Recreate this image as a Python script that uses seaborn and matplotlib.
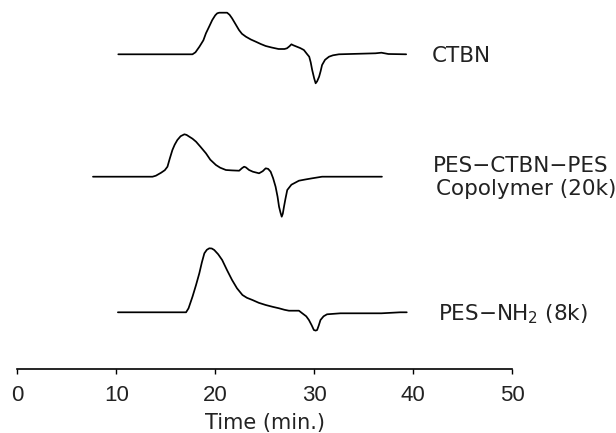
import numpy as np
import pandas as pd
import matplotlib
matplotlib.use("Agg")
import matplotlib.pyplot as plt
import seaborn as sns

# ---- data (signal heights in arbitrary units) ----
ctbn_t = [10.2, 17.7, 18.0, 18.4, 18.8, 19.06, 19.4, 19.7, 20.0, 20.2, 20.4, 21.2,
          21.45, 21.7, 22.0, 22.4, 22.7, 23.1, 23.6, 24.1, 24.6, 25.1, 25.7, 26.4,
          27.0, 27.25, 27.5, 27.7, 27.9, 28.25, 28.6, 28.96, 29.3, 29.5, 29.65,
          29.8, 30.0, 30.15, 30.3, 30.5, 30.65, 30.8, 31.1, 31.5, 31.9, 32.5,
          36.2, 36.8, 37.5, 39.3]
ctbn_h = [0, 0, 2, 7.6, 14, 21, 28, 34.3, 39, 41, 41.6, 41.6,
          39.5, 36, 31, 24.3, 20.5, 17.6, 14.8, 12.6, 10.3, 8.3, 6.8, 5.3,
          5.3, 6, 8, 10, 9, 7.6, 6.2, 4.3, 0, -2.4, -8,
          -15.7, -24, -29, -27, -22.4, -17, -10.7, -5.5, -2.4, -1, 0,
          1, 1.6, 0.3, 0]

copo_t = [7.64, 13.66, 14.0, 14.53, 14.9, 15.17, 15.4, 15.67, 15.9, 16.17,
          16.5, 16.88, 17.1, 17.38, 17.7, 18.06, 18.5, 19.06, 19.5, 20.07,
          20.5, 21.08, 21.7, 22.42, 22.7, 22.92, 23.1, 23.42, 23.8, 24.43,
          24.8, 25.1, 25.35, 25.6, 25.85, 26.1, 26.3, 26.45, 26.6, 26.72,
          26.83, 26.95, 27.1, 27.28, 27.7, 28.46, 29.1, 29.8, 30.8, 36.85]
copo_h = [0, 0, 1, 4, 6.5, 10, 18, 26.7, 32, 36.7,
          40.5, 42.4, 41.8, 40, 38, 35, 30, 23.4, 17, 11.7,
          9, 6.7, 6.3, 6, 8.5, 10, 9.3, 6.7, 5, 3.4,
          5.5, 8.4, 7.8, 5, -1.5, -10, -20, -30, -36, -40,
          -37, -30, -22, -13.3, -8, -4, -2.8, -1.6, 0, 0]

pes_t = [10.16, 17.05, 17.3, 17.7, 18.05, 18.39, 18.65, 18.9, 19.15, 19.4,
         19.65, 19.9, 20.3, 20.7, 21.2, 21.7, 22.2, 22.75, 23.2, 23.76,
         24.4, 25.1, 25.8, 26.45, 27.0, 27.45, 28.46, 28.8, 29.2, 29.47,
         29.75, 29.97, 30.15, 30.3, 30.47, 30.64, 30.95, 31.3, 32.66, 36.8,
         38.7, 39.36]
pes_h = [0, 0, 4, 15.6, 27, 39, 50, 59, 62.5, 64,
         63.8, 62.3, 58, 52.3, 42, 32.3, 24, 17.3, 14.5, 12.3,
         9.5, 7.3, 5.5, 4, 2.5, 1.6, 1.6, -1, -4, -7.7,
         -13, -17.7, -18.3, -17.7, -13, -7.7, -4, -2, -1, -1,
         0, 0]

series_names = ["CTBN", "PES\u2212CTBN\u2212PES Copolymer (20k)", "PES\u2212NH2 (8k)"]
x_ticks = [0, 10, 20, 30, 40, 50]
x_label = "Time (min.)"

# vertical stacking offsets (layout)
offsets = [314.7, 192.3, 56.7]

frames = []
for name, t, h, off in zip(series_names, [ctbn_t, copo_t, pes_t],
                           [ctbn_h, copo_h, pes_h], offsets):
    frames.append(pd.DataFrame({"series": name, "time": t,
                                "signal": np.array(h) + off}))
df = pd.concat(frames, ignore_index=True)

sns.set_style("white")
plt.rcParams["font.family"] = ["DejaVu Sans"]
plt.rcParams["mathtext.default"] = "regular"

W, H = 616, 433
fig = plt.figure(figsize=(W / 100, H / 100), dpi=100)
ax = fig.add_axes([17.4 / W, (H - 369) / H, (512 - 17.4) / W, 369 / H])

sns.lineplot(data=df, x="time", y="signal", hue="series",
             palette=["black"] * 3, estimator=None, sort=False,
             legend=False, linewidth=1.25, ax=ax)

ax.set_xlim(0, 50)
ax.set_ylim(0, 369)
ax.set_yticks([])
ax.set_ylabel("")
ax.set_xticks(x_ticks)
ax.set_xticklabels([str(v) for v in x_ticks], family="Liberation Sans",
                   fontsize=16, color="#222222")
ax.tick_params(axis="x", direction="out", length=3.5, width=1,
               color="black", pad=8, bottom=True)
ax.set_xlabel(x_label, fontsize=15, color="#222222", labelpad=5)
for s in ["left", "top", "right"]:
    ax.spines[s].set_visible(False)
ax.spines["bottom"].set_linewidth(1.2)
ax.spines["bottom"].set_color("black")
ax.patch.set_alpha(0)

# curve labels (pixel positions of baselines)
def put(txt, x, y):
    fig.text(x / W, 1 - y / H, txt, fontsize=15.5, color="#222222",
             ha="left", va="baseline")

put("CTBN", 432, 62)
put("PES\u2212CTBN\u2212PES", 433, 172)
put("Copolymer (20k)", 436, 195)
put("PES\u2212NH$_2$ (8k)", 438, 320)

fig.savefig("out.png", dpi=100)
